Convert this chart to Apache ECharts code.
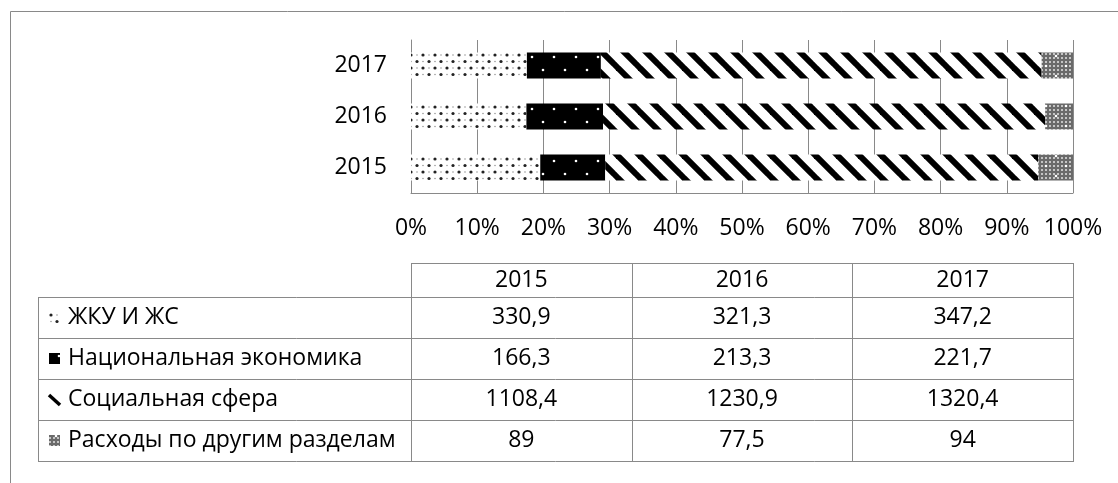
<!DOCTYPE html>
<html>
<head>
<meta charset="utf-8">
<script src="https://cdn.jsdelivr.net/npm/echarts@6/dist/echarts.min.js"></script>
<style>
    html, body { margin: 0; padding: 0; background: #fff; }
    #chart { width: 1118px; height: 483px; }
</style>
</head>
<body>
<div id="chart"></div>
<script>
    // data
    let years = ['2015', '2016', '2017']
    let seriesNames = ['ЖКУ И ЖС', 'Национальная экономика', 'Социальная сфера', 'Расходы по другим разделам']
    let zhku = [330.9, 321.3, 347.2]
    let economy = [166.3, 213.3, 221.7]
    let social = [1108.4, 1230.9, 1320.4]
    let other = [89, 77.5, 94]
    let xTicks = [0, 10, 20, 30, 40, 50, 60, 70, 80, 90, 100]

    let FONT = '"Open Sans", "Liberation Sans", sans-serif'
    let FS = 23
    let LINE = '#898989'

    function tile(w, h, draw) {
        let c = document.createElement('canvas')
        c.width = w
        c.height = h
        let ctx = c.getContext('2d')
        draw(ctx, w, h)
        return c
    }
    function dot(ctx, x, y, r, col) {
        ctx.fillStyle = col
        ctx.beginPath()
        ctx.arc(x, y, r, 0, Math.PI * 2)
        ctx.fill()
    }

    // fill patterns, close to the Excel ones
    let dotsTile = tile(12, 13, function (ctx, w, h) {
        ctx.fillStyle = '#fff'
        ctx.fillRect(0, 0, w, h)
        dot(ctx, 3, 3, 1.6, '#222')
        dot(ctx, 9, 9.5, 1.6, '#222')
        dot(ctx, 9, 3, 0.8, '#999')
        dot(ctx, 3, 9.5, 0.8, '#999')
    })
    let blackTile = tile(22, 26, function (ctx, w, h) {
        ctx.fillStyle = '#000'
        ctx.fillRect(0, 0, w, h)
        dot(ctx, 4, 5, 1.3, '#fff')
        dot(ctx, 15, 18, 1.3, '#fff')
    })
    let stripeTile = tile(22, 22, function (ctx, w, h) {
        ctx.fillStyle = '#fff'
        ctx.fillRect(0, 0, w, h)
        ctx.strokeStyle = '#000'
        ctx.lineWidth = 6
        for (let o = -22; o <= 22; o += 22) {
            ctx.beginPath()
            ctx.moveTo(o - 2, -2)
            ctx.lineTo(o + 24, 24)
            ctx.stroke()
        }
    })
    let greyTile = tile(20, 20, function (ctx, w, h) {
        ctx.fillStyle = '#6a6a6a'
        ctx.fillRect(0, 0, w, h)
        ctx.fillStyle = '#c4c4c4'
        for (let i = 0; i < w; i += 4) {
            for (let j = 0; j < h; j += 4) {
                ctx.fillRect(i + 1, j + 1, 2, 2)
            }
        }
        dot(ctx, 6, 6, 1.3, '#fff')
        dot(ctx, 16, 16, 1.3, '#fff')
    })
    let fills = [dotsTile, blackTile, stripeTile, greyTile]

    let raw = [zhku, economy, social, other]
    let totals = years.map(function (y, i) {
        return zhku[i] + economy[i] + social[i] + other[i]
    })

    let gridLeft = 411, gridRight = 45, gridTop = 40, gridBottom = 290
    let plotW = 1118 - gridLeft - gridRight

    function fmt(v) {
        return String(v).replace('.', ',')
    }

    // data table under the chart
    let tabLeft = 38
    let rowY = [263, 297, 338, 379, 420, 461]
    let colX = [gridLeft]
    for (let i = 1; i <= years.length; i++) colX.push(gridLeft + plotW * i / years.length)
    let graphics = []
    function hline(x1, x2, y) {
        graphics.push({ type: 'line', shape: { x1: x1, y1: y + 0.5, x2: x2, y2: y + 0.5 }, style: { stroke: LINE, lineWidth: 1 }, silent: true })
    }
    function vline(x, y1, y2) {
        graphics.push({ type: 'line', shape: { x1: Math.round(x) + 0.5, y1: y1, x2: Math.round(x) + 0.5, y2: y2 + 1 }, style: { stroke: LINE, lineWidth: 1 }, silent: true })
    }
    function txt(x, y, s, align) {
        graphics.push({ type: 'text', x: x, y: y, style: { text: s, font: FS + 'px ' + FONT, fill: '#000', align: align, verticalAlign: 'middle' }, silent: true })
    }
    // outer chart border
    graphics.push({ type: 'rect', shape: { x: 10.5, y: 11.5, width: 2000, height: 2000 }, style: { fill: 'none', stroke: LINE, lineWidth: 1 }, silent: true })
    hline(colX[0], colX[3], rowY[0])
    for (let r = 1; r < rowY.length; r++) hline(tabLeft, colX[3], rowY[r])
    vline(tabLeft, rowY[1], rowY[5])
    colX.forEach(function (x) { vline(x, rowY[0], rowY[5]) })
    years.forEach(function (y, i) {
        txt((colX[i] + colX[i + 1]) / 2, (rowY[0] + rowY[1]) / 2, y, 'center')
    })
    seriesNames.forEach(function (name, r) {
        let cy = (rowY[r + 1] + rowY[r + 2]) / 2
        txt(tabLeft + 30, cy, name, 'left')
        raw[r].forEach(function (v, i) {
            txt((colX[i] + colX[i + 1]) / 2, cy, fmt(v), 'center')
        })
        // legend key
        let kx = tabLeft + 11, ky = Math.round(cy) - 6
        if (r === 2) {
            graphics.push({ type: 'line', shape: { x1: kx, y1: ky + 1, x2: kx + 11, y2: ky + 11 }, style: { stroke: '#000', lineWidth: 3.5 }, silent: true })
        } else {
            graphics.push({ type: 'rect', shape: { x: kx, y: ky, width: 11, height: 11 }, style: { fill: { image: fills[r], repeat: 'repeat' } }, silent: true })
        }
    })

    let chart = echarts.init(document.getElementById('chart'), null, { renderer: 'canvas' })
    const option = {
        animation: false,
        backgroundColor: '#fff',
        grid: { left: gridLeft, right: gridRight, top: gridTop, bottom: gridBottom, containLabel: false },
        xAxis: {
            type: 'value',
            min: xTicks[0],
            max: xTicks[xTicks.length - 1],
            interval: xTicks[1] - xTicks[0],
            axisLine: { show: true, lineStyle: { color: LINE, width: 1 } },
            axisTick: { show: false },
            splitLine: { show: true, lineStyle: { color: LINE, width: 1 } },
            axisLabel: { formatter: '{value}%', color: '#000', fontFamily: FONT, fontSize: FS, margin: 24 }
        },
        yAxis: {
            type: 'category',
            data: years,
            axisLine: { show: true, lineStyle: { color: LINE, width: 1 } },
            axisTick: { show: false },
            axisLabel: { color: '#000', fontFamily: FONT, fontSize: FS, margin: 24 }
        },
        series: seriesNames.map(function (name, s) {
            return {
                name: name,
                type: 'bar',
                stack: 'total',
                barCategoryGap: '49%',
                itemStyle: { color: { image: fills[s], repeat: 'repeat' } },
                data: raw[s].map(function (v, i) { return v / totals[i] * 100 })
            }
        }),
        graphic: graphics
    }
    chart.setOption(option)
</script>
</body>
</html>
